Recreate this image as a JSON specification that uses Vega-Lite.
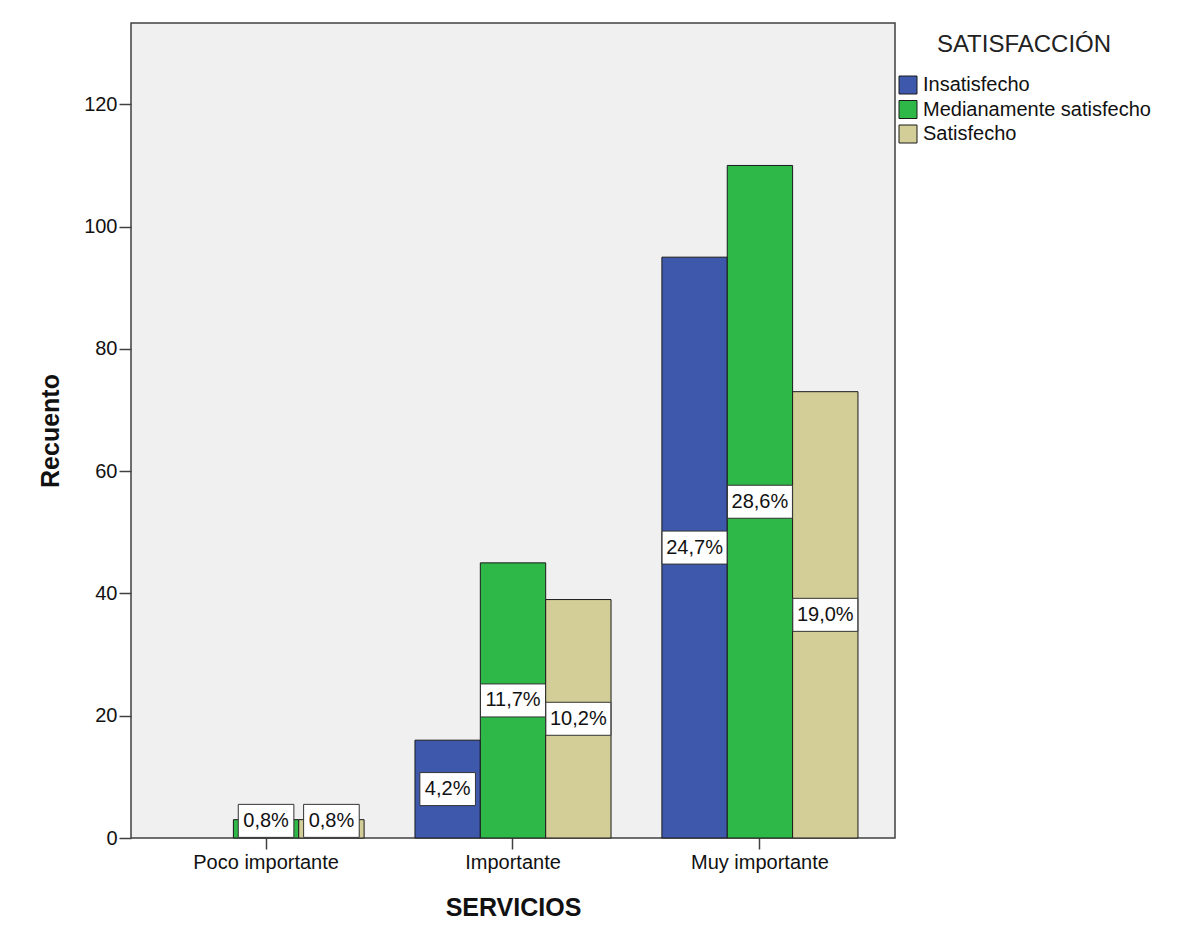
{
  "$schema": "https://vega.github.io/schema/vega-lite/v6.json",
  "autosize": "none",
  "width": 764,
  "height": 815,
  "padding": {"left": 131, "top": 23, "right": 285, "bottom": 103},
  "background": "white",
  "config": {
    "font": "Liberation Sans",
    "view": {"fill": "#f0f0f0", "stroke": "#404040", "strokeWidth": 1.5},
    "axis": {"labelFont": "Liberation Sans", "labelColor": "#111", "titleFont": "Liberation Sans", "titleColor": "#111", "domain": false, "grid": false, "tickColor": "#404040", "tickWidth": 1.5}
  },
  "data": {
    "values": [
      {"servicio": "Poco importante", "satisfaccion": "Insatisfecho", "recuento": 0, "pct": ""},
      {"servicio": "Poco importante", "satisfaccion": "Medianamente satisfecho", "recuento": 3, "pct": "0,8%"},
      {"servicio": "Poco importante", "satisfaccion": "Satisfecho", "recuento": 3, "pct": "0,8%"},
      {"servicio": "Importante", "satisfaccion": "Insatisfecho", "recuento": 16, "pct": "4,2%"},
      {"servicio": "Importante", "satisfaccion": "Medianamente satisfecho", "recuento": 45, "pct": "11,7%"},
      {"servicio": "Importante", "satisfaccion": "Satisfecho", "recuento": 39, "pct": "10,2%"},
      {"servicio": "Muy importante", "satisfaccion": "Insatisfecho", "recuento": 95, "pct": "24,7%"},
      {"servicio": "Muy importante", "satisfaccion": "Medianamente satisfecho", "recuento": 110, "pct": "28,6%"},
      {"servicio": "Muy importante", "satisfaccion": "Satisfecho", "recuento": 73, "pct": "19,0%"}
    ]
  },
  "encoding": {
    "x": {
      "field": "servicio", "type": "nominal",
      "sort": ["Poco importante", "Importante", "Muy importante"],
      "scale": {"paddingInner": 0.206, "paddingOuter": 0.15},
      "axis": {"title": "SERVICIOS", "titleFontSize": 25, "titleFontWeight": "bold", "titlePadding": 23, "labelAngle": 0, "labelFontSize": 20, "tickSize": 11, "labelPadding": 3}
    },
    "xOffset": {"field": "satisfaccion", "type": "nominal", "sort": ["Insatisfecho", "Medianamente satisfecho", "Satisfecho"]}
  },
  "layer": [
    {
      "transform": [{"filter": "datum.recuento > 0"}],
      "mark": {"type": "bar", "stroke": "#1a1a1a", "strokeWidth": 1},
      "encoding": {
        "y": {
          "field": "recuento", "type": "quantitative",
          "scale": {"domain": [0, 133.3], "nice": false},
          "axis": {"title": "Recuento", "titleFontSize": 25, "titleFontWeight": "bold", "titlePadding": 20, "values": [0, 20, 40, 60, 80, 100, 120], "labelFontSize": 20, "tickSize": 12, "labelPadding": 2}
        },
        "color": {
          "field": "satisfaccion", "type": "nominal",
          "sort": ["Insatisfecho", "Medianamente satisfecho", "Satisfecho"],
          "scale": {"domain": ["Insatisfecho", "Medianamente satisfecho", "Satisfecho"], "range": ["#3E58AC", "#2EB848", "#D3CE97"]},
          "legend": {"title": "SATISFACCIÓN", "orient": "right", "offset": -7, "padding": 10, "titleFontSize": 24, "titleFontWeight": "normal", "titleColor": "#222", "titleAnchor": "middle", "titlePadding": 18, "labelFontSize": 20, "labelColor": "#111", "labelOffset": 5, "labelLimit": 400, "symbolType": "square", "symbolSize": 324, "symbolStrokeColor": "#1a1a1a", "symbolStrokeWidth": 1, "rowPadding": 2.5}
        }
      }
    },
    {
      "transform": [
        {"filter": "datum.recuento > 0"},
        {"calculate": "max(datum.recuento / 2, 2.8)", "as": "mid"},
        {"calculate": "datum.mid - 2.7", "as": "lo"},
        {"calculate": "datum.mid + 2.7", "as": "hi"},
        {"calculate": "min(65, 10 + 11.4 * length(datum.pct))", "as": "boxw"}
      ],
      "mark": {"type": "bar", "fill": "white", "stroke": "#333", "strokeWidth": 1},
      "encoding": {
        "y": {"field": "lo", "type": "quantitative"},
        "y2": {"field": "hi"},
        "size": {"field": "boxw", "type": "quantitative", "scale": null, "legend": null}
      }
    },
    {
      "transform": [
        {"filter": "datum.recuento > 0"},
        {"calculate": "max(datum.recuento / 2, 2.8)", "as": "mid"}
      ],
      "mark": {"type": "text", "fontSize": 20, "color": "#111", "baseline": "middle", "align": "center"},
      "encoding": {
        "y": {"field": "mid", "type": "quantitative"},
        "text": {"field": "pct"}
      }
    }
  ]
}
